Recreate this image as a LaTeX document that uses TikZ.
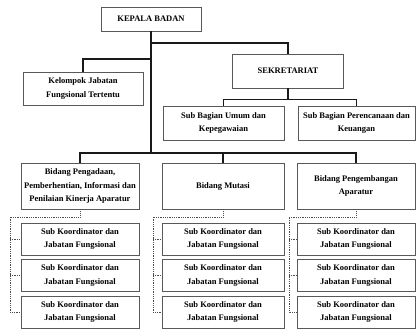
\documentclass[tikz,border=0pt]{standalone}
\usepackage{fontspec}
\setmainfont{Liberation Serif}
\usepackage{tikz}

\begin{document}
\begin{tikzpicture}[x=1pt, y=-1pt,
    box/.style={draw=black!65, line width=0.8pt, rectangle, inner sep=0pt, align=center,
      font=\fontsize{8.5}{13.5}\selectfont\bfseries},
    trunk/.style={draw=black!90, line width=1.3pt},
    dots/.style={draw=black!70, line width=0.8pt, densely dotted}]
    \useasboundingbox (0, 0) rectangle (416, 329);

    % pimpinan
    \node[box, minimum width=100, minimum height=24] (kb) at(151, 19){KEPALA BADAN};
    \node[box, minimum width=120, minimum height=33] (kjf) at(83, 88.5){Kelompok Jabatan\\Fungsional Tertentu};
    \node[box, minimum width=111, minimum height=34] (sek) at(288, 71){SEKRETARIAT};
    \node[box, minimum width=121, minimum height=34] (sbu) at(223.5, 123){Sub Bagian Umum dan\\Kepegawaian};
    \node[box, minimum width=117, minimum height=34] (sbp) at(356.5, 123){Sub Bagian Perencanaan dan\\Keuangan};

    % bidang
    \node[box, minimum width=118, minimum height=46] (bd1) at(80, 186){Bidang Pengadaan,\\Pemberhentian, Informasi dan\\Penilaian Kinerja Aparatur};
    \node[box, minimum width=122, minimum height=46] (bd2) at(223, 186){Bidang Mutasi};
    \node[box, minimum width=118, minimum height=46] (bd3) at(356, 186){Bidang Pengembangan\\Aparatur};

    % sub koordinator
    \foreach \c/\x/\w in {1/80/118, 2/223/122, 3/356/118} {
      \foreach \r/\y in {1/239, 2/275.5, 3/312} {
        \node[box, minimum width=\w, minimum height=32] (s\c\r) at(\x, \y){Sub Koordinator dan\\Jabatan Fungsional};
      }
    }

    \coordinate (sekjoin) at(151, 43);
    \coordinate (kjfjoin) at(151, 59);
    \coordinate (bus) at(151, 153);

    \draw[trunk] (kb.south) -- (bus);
    \draw[trunk] (sekjoin) -| (sek.north);
    \draw[trunk] (kjfjoin) -| (kjf.north);
    \draw[trunk] (sek.south) -- ++(0, 11) coordinate (sekbus);
    \draw[trunk] (sbu.north) |- (sekbus) -| (sbp.north);
    \draw[trunk] (bd1.north) |- (bus) -| (bd3.north);
    \draw[trunk] (bus -| bd2.north) -- (bd2.north);

    % garis koordinasi
    \foreach \c/\rx in {1/10, 2/153, 3/289} {
      \coordinate (r\c) at(\rx, 217);
      \draw[dots] (bd\c.south) -- (bd\c.south |- r\c) -- (r\c) |- (s\c3.west);
      \draw[dots] (r\c |- s\c1.west) -- (s\c1.west);
      \draw[dots] (r\c |- s\c2.west) -- (s\c2.west);
    }

  \end{tikzpicture}
\end{document}
